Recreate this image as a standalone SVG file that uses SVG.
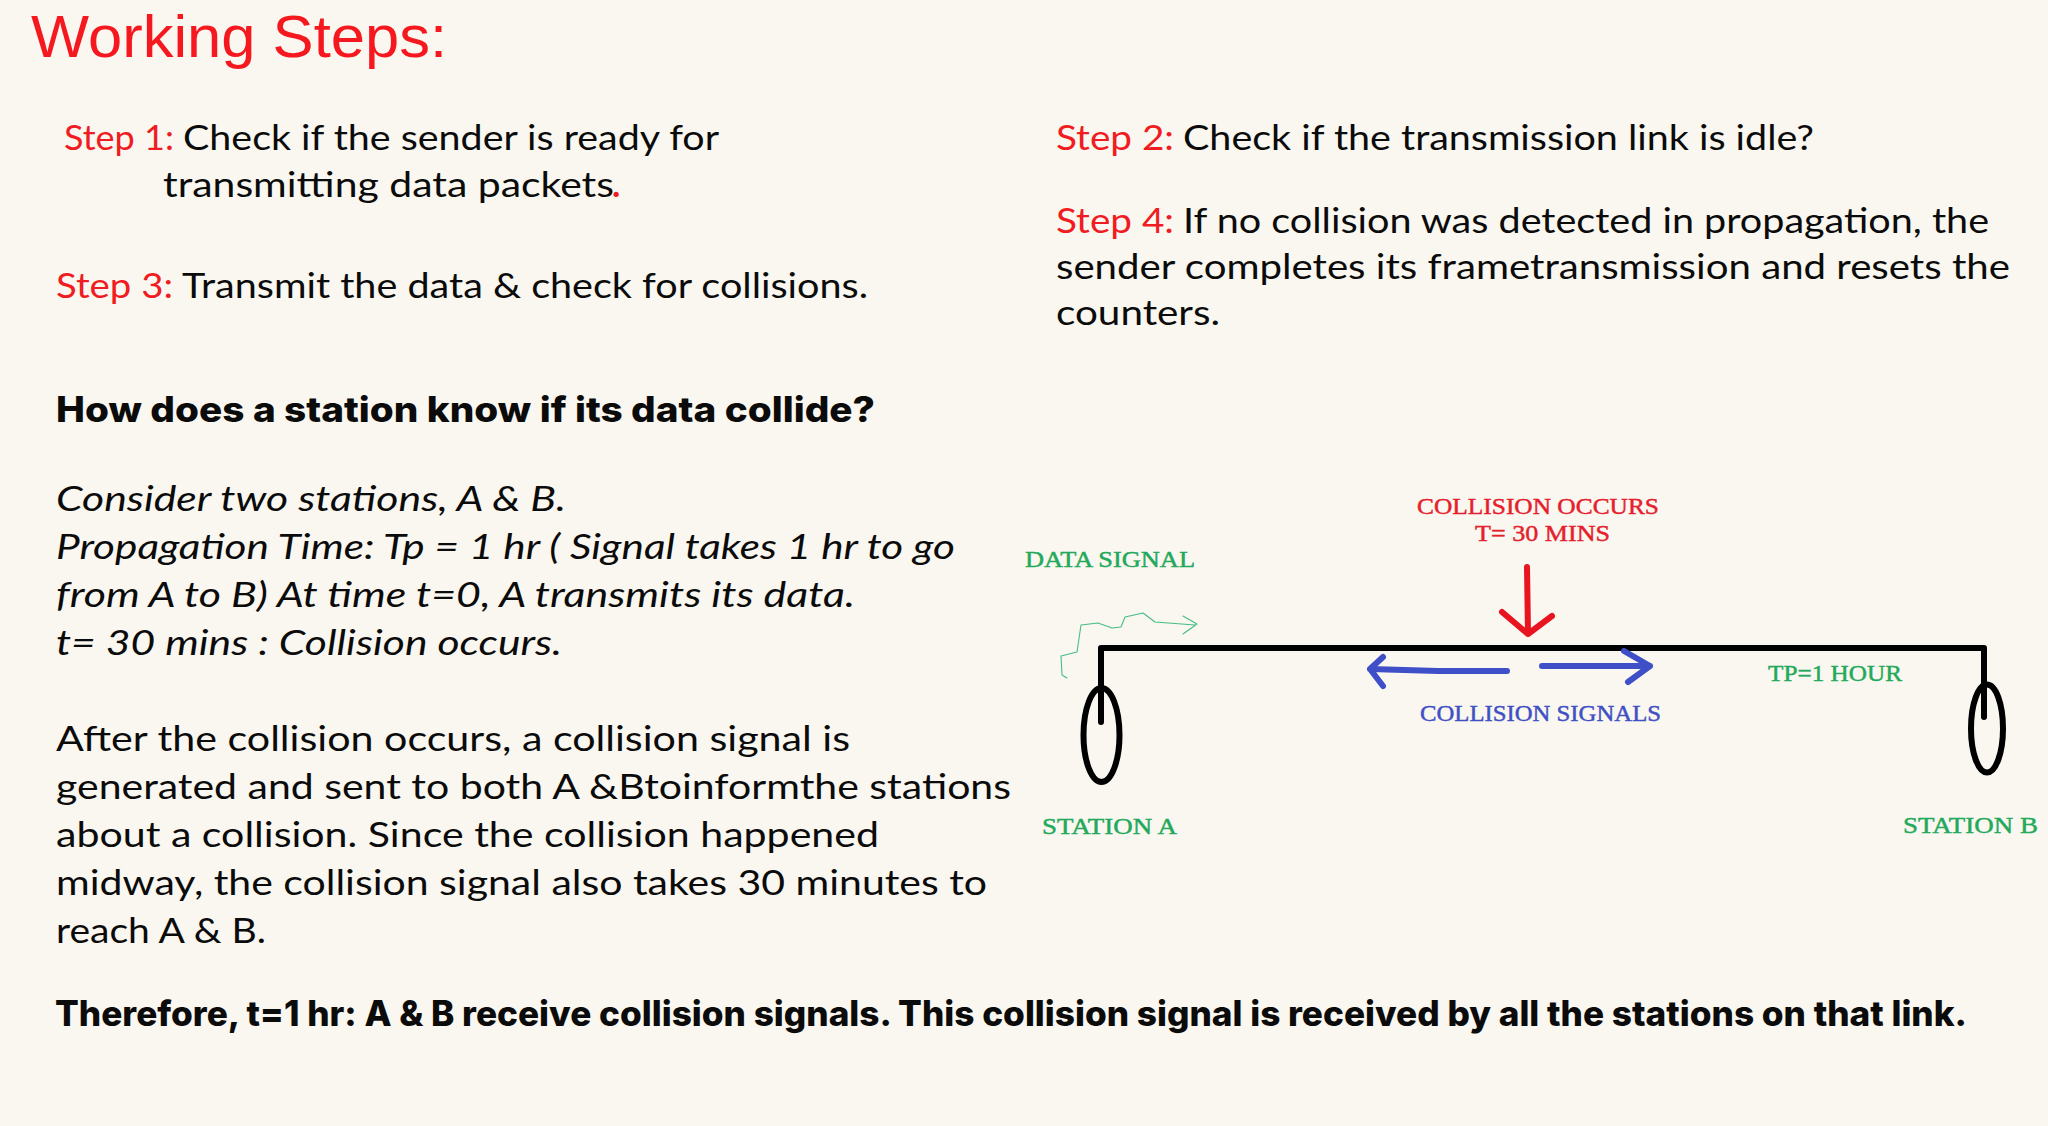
<svg xmlns="http://www.w3.org/2000/svg" width="2048" height="1126" viewBox="0 0 2048 1126">
<style>
.b{font-family:"Lato","Liberation Sans",sans-serif;font-size:35px;fill:#0b0b0b}
.r{fill:#f01c22}
.i{font-style:italic}
.h{font-family:"Inter","Liberation Sans",sans-serif;font-size:35px;font-weight:800;fill:#0b0b0b}
.l{font-family:"Liberation Serif",serif;font-size:24px;stroke-width:.45}
.g{fill:#22a95a;stroke:#22a95a}.bl{fill:#3f4fc4;stroke:#3f4fc4}.rd{fill:#e5202c;stroke:#e5202c}
.w{fill:none;stroke-linecap:round;stroke-linejoin:round}
</style>
<rect width="2048" height="1126" fill="#f9f7f0"/>
<text x="31" y="57" font-family="Liberation Sans, sans-serif" font-size="60" fill="#f5191f" textLength="416" lengthAdjust="spacingAndGlyphs">Working Steps:</text>
<g id="steps">
<text class="b r" x="64" y="150" textLength="110" lengthAdjust="spacingAndGlyphs">Step 1:</text>
<text class="b" x="183" y="150" textLength="536" lengthAdjust="spacingAndGlyphs">Check if the sender is ready for</text>
<text class="b" x="163" y="197" textLength="451" lengthAdjust="spacingAndGlyphs">transmitting data packets</text>
<text class="b r" x="612" y="197" font-weight="700">.</text>
<text class="b r" x="56" y="298" textLength="117" lengthAdjust="spacingAndGlyphs">Step 3:</text>
<text class="b" x="182" y="298" textLength="686" lengthAdjust="spacingAndGlyphs">Transmit the data &amp; check for collisions.</text>
<text class="b r" x="1056" y="150" textLength="118" lengthAdjust="spacingAndGlyphs">Step 2:</text>
<text class="b" x="1183" y="150" textLength="631" lengthAdjust="spacingAndGlyphs">Check if the transmission link is idle?</text>
<text class="b r" x="1056" y="233" textLength="118" lengthAdjust="spacingAndGlyphs">Step 4:</text>
<text class="b" x="1183" y="233" textLength="806" lengthAdjust="spacingAndGlyphs">If no collision was detected in propagation, the</text>
<text class="b" x="1056" y="279" textLength="954" lengthAdjust="spacingAndGlyphs">sender completes its frametransmission and resets the</text>
<text class="b" x="1056" y="325" textLength="164" lengthAdjust="spacingAndGlyphs">counters.</text>
</g>
<g id="explanation">
<text class="h" x="56" y="422" textLength="819" lengthAdjust="spacingAndGlyphs">How does a station know if its data collide?</text>
<text class="b i" x="56" y="511" textLength="510" lengthAdjust="spacingAndGlyphs">Consider two stations, A &amp; B.</text>
<text class="b i" x="56" y="559" textLength="899" lengthAdjust="spacingAndGlyphs">Propagation Time: Tp = 1 hr ( Signal takes 1 hr to go</text>
<text class="b i" x="56" y="607" textLength="799" lengthAdjust="spacingAndGlyphs">from A to B) At time t=0, A transmits its data.</text>
<text class="b i" x="56" y="655" textLength="506" lengthAdjust="spacingAndGlyphs">t= 30 mins : Collision occurs.</text>
<text class="b" x="56" y="751" textLength="794" lengthAdjust="spacingAndGlyphs">After the collision occurs, a collision signal is</text>
<text class="b" x="56" y="799" textLength="955" lengthAdjust="spacingAndGlyphs">generated and sent to both A &amp;Btoinformthe stations</text>
<text class="b" x="56" y="847" textLength="823" lengthAdjust="spacingAndGlyphs">about a collision. Since the collision happened</text>
<text class="b" x="56" y="895" textLength="931" lengthAdjust="spacingAndGlyphs">midway, the collision signal also takes 30 minutes to</text>
<text class="b" x="56" y="943" textLength="210" lengthAdjust="spacingAndGlyphs">reach A &amp; B.</text>
<text class="h" x="55" y="1026" textLength="1912" lengthAdjust="spacingAndGlyphs">Therefore, t=1 hr: A &amp; B receive collision signals. This collision signal is received by all the stations on that link.</text>
</g>
<g id="connectors" class="w">
<path d="M1101 722V648H1984V717" stroke="#000" stroke-width="6"/>
<path d="M1527 567L1528 634M1502 612L1528 634L1552 616" stroke="#e8141f" stroke-width="6"/>
<path d="M1507 671H1438L1370 669M1383 657L1370 669L1383 686" stroke="#3f4fc8" stroke-width="6"/>
<path d="M1542 666H1650M1624 651L1650 666L1628 682" stroke="#3f4fc8" stroke-width="6"/>
<path d="M1067 678L1062 675L1061 656L1077 652L1081 625L1098 623L1112 628L1121 627L1125 617L1143 613L1155 622L1195 625M1183 616L1197 624L1183 634" stroke="#46bd83" stroke-width="1.1"/>
</g>
<g id="station-a"><ellipse class="w" cx="1101.500" cy="735" rx="18" ry="47" stroke="#000" stroke-width="6"/><text class="l g" x="1042" y="834" textLength="135" lengthAdjust="spacingAndGlyphs">STATION A</text></g>
<g id="station-b"><ellipse class="w" cx="1987" cy="728.500" rx="16" ry="44" stroke="#000" stroke-width="6"/><text class="l g" x="1903" y="833" textLength="135" lengthAdjust="spacingAndGlyphs">STATION B</text></g>
<g id="labels">
<text class="l rd" x="1417" y="514" textLength="242" lengthAdjust="spacingAndGlyphs">COLLISION OCCURS</text>
<text class="l rd" x="1475" y="541" textLength="135" lengthAdjust="spacingAndGlyphs">T= 30 MINS</text>
<text class="l g" x="1025" y="567" textLength="170" lengthAdjust="spacingAndGlyphs">DATA SIGNAL</text>
<text class="l g" x="1768" y="681" textLength="134" lengthAdjust="spacingAndGlyphs">TP=1 HOUR</text>
<text class="l bl" x="1420" y="721" textLength="241" lengthAdjust="spacingAndGlyphs">COLLISION SIGNALS</text>
</g>
</svg>
